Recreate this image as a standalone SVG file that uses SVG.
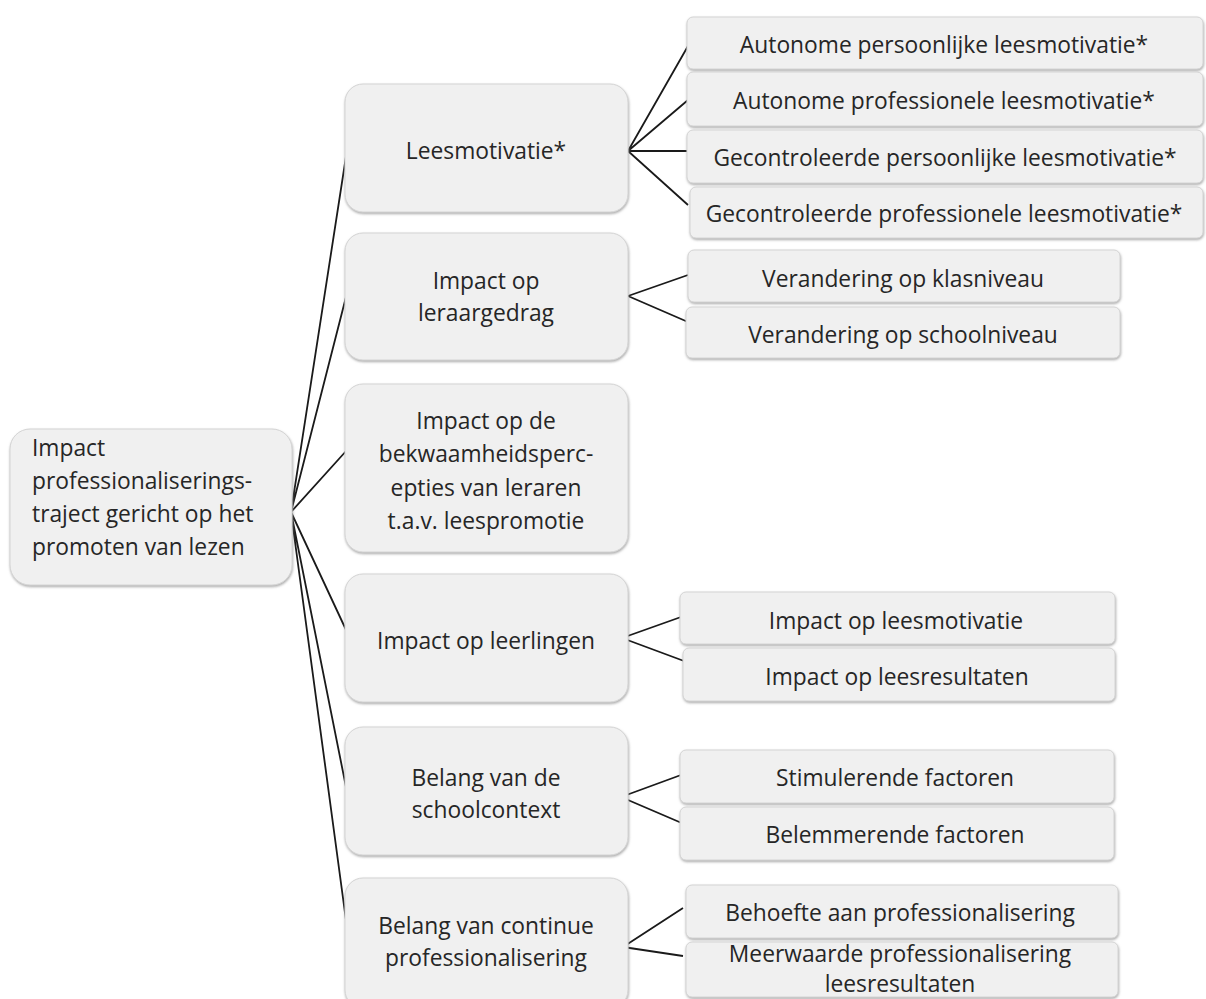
<svg xmlns="http://www.w3.org/2000/svg" width="1206" height="999" viewBox="0 0 1206 999">
<defs>
<filter id="sh" x="-5%" y="-5%" width="110%" height="115%">
<feDropShadow dx="0.5" dy="1.5" stdDeviation="0.8" flood-color="#888" flood-opacity="0.7"/>
</filter>
</defs>
<style>
.box{fill:#f0f0f0;stroke:#d4d4d4;stroke-width:1;filter:url(#sh)}
.t{font-family:"Open Sans",Lato,"Liberation Sans",sans-serif;font-size:22.8px;fill:#262626;text-anchor:middle;dominant-baseline:central}
.tl{text-anchor:start}
.c{stroke:#1a1a1a;stroke-width:1.8;fill:none}
</style>
<rect width="1206" height="999" fill="#ffffff"/>
<g id="connectors">
<path class="c" d="M291,512 L347,150 M291,512 L347,293 M291,512 L347,450 M291,512 L347,632 M291,512 L348,797 M291,512 L350,950"/>
<path class="c" d="M628,151 L688,46 M628,151 L688,100 M628,151 L688,151 M628,151 L688,205"/>
<path class="c" d="M628,296 L688,275 M628,296 L688,322"/>
<path class="c" d="M622,638 L681,617 M622,638 L684,661"/>
<path class="c" d="M621,797 L681,775 M621,797 L684,824"/>
<path class="c" d="M623,947 L683,908 M623,947 L683,956"/>
</g>
<g id="root">
<rect class="box" x="10" y="429" width="282" height="156" rx="20"/>
<text class="t tl" x="32"><tspan x="32" y="447">Impact</tspan><tspan x="32" y="480">professionaliserings-</tspan><tspan x="32" y="513">traject gericht op het</tspan><tspan x="32" y="546">promoten van lezen</tspan></text>
</g>
<g id="n-leesmotivatie">
<rect class="box" x="345" y="84" width="283" height="128" rx="18"/>
<text class="t" x="486" y="150">Leesmotivatie*</text>
</g>
<g id="n-leraargedrag">
<rect class="box" x="345" y="233" width="283" height="127" rx="18"/>
<text class="t"><tspan x="486" y="280">Impact op</tspan><tspan x="486" y="312">leraargedrag</tspan></text>
</g>
<g id="n-bekwaamheid">
<rect class="box" x="345" y="384" width="283" height="168" rx="18"/>
<text class="t"><tspan x="486" y="420">Impact op de</tspan><tspan x="486" y="453">bekwaamheidsperc-</tspan><tspan x="486" y="487">epties van leraren</tspan><tspan x="486" y="520">t.a.v. leespromotie</tspan></text>
</g>
<g id="n-leerlingen">
<rect class="box" x="345" y="574" width="283" height="128" rx="18"/>
<text class="t" x="486" y="640">Impact op leerlingen</text>
</g>
<g id="n-schoolcontext">
<rect class="box" x="345" y="727" width="283" height="128" rx="18"/>
<text class="t"><tspan x="486" y="777">Belang van de</tspan><tspan x="486" y="809">schoolcontext</tspan></text>
</g>
<g id="n-continue">
<rect class="box" x="345" y="878" width="283" height="130" rx="18"/>
<text class="t"><tspan x="486" y="925">Belang van continue</tspan><tspan x="486" y="957">professionalisering</tspan></text>
</g>
<g id="l-autonoom-pers">
<rect class="box" x="687" y="17" width="516" height="52" rx="6"/>
<text class="t" x="944" y="44">Autonome persoonlijke leesmotivatie*</text>
</g>
<g id="l-autonoom-prof">
<rect class="box" x="687" y="72" width="516" height="54" rx="6"/>
<text class="t" x="944" y="100">Autonome professionele leesmotivatie*</text>
</g>
<g id="l-gecontr-pers">
<rect class="box" x="687" y="130" width="516" height="53" rx="6"/>
<text class="t" x="945" y="157">Gecontroleerde persoonlijke leesmotivatie*</text>
</g>
<g id="l-gecontr-prof">
<rect class="box" x="690" y="187" width="513" height="51" rx="6"/>
<text class="t" x="944" y="213">Gecontroleerde professionele leesmotivatie*</text>
</g>
<g id="l-klasniveau">
<rect class="box" x="688" y="250" width="432" height="52" rx="6"/>
<text class="t" x="903" y="278">Verandering op klasniveau</text>
</g>
<g id="l-schoolniveau">
<rect class="box" x="686" y="307" width="434" height="51" rx="6"/>
<text class="t" x="903" y="334">Verandering op schoolniveau</text>
</g>
<g id="l-leesmotivatie">
<rect class="box" x="680" y="592" width="435" height="52" rx="6"/>
<text class="t" x="896" y="620">Impact op leesmotivatie</text>
</g>
<g id="l-leesresultaten">
<rect class="box" x="683" y="648" width="432" height="53" rx="6"/>
<text class="t" x="897" y="676">Impact op leesresultaten</text>
</g>
<g id="l-stimulerend">
<rect class="box" x="680" y="750" width="434" height="53" rx="6"/>
<text class="t" x="895" y="777">Stimulerende factoren</text>
</g>
<g id="l-belemmerend">
<rect class="box" x="680" y="807" width="434" height="53" rx="6"/>
<text class="t" x="895" y="834">Belemmerende factoren</text>
</g>
<g id="l-behoefte">
<rect class="box" x="686" y="885" width="432" height="53" rx="6"/>
<text class="t" x="900" y="912">Behoefte aan professionalisering</text>
</g>
<g id="l-meerwaarde">
<rect class="box" x="686" y="942" width="432" height="55" rx="6"/>
<text class="t"><tspan x="900" y="953">Meerwaarde professionalisering</tspan><tspan x="900" y="983">leesresultaten</tspan></text>
</g>
</svg>
